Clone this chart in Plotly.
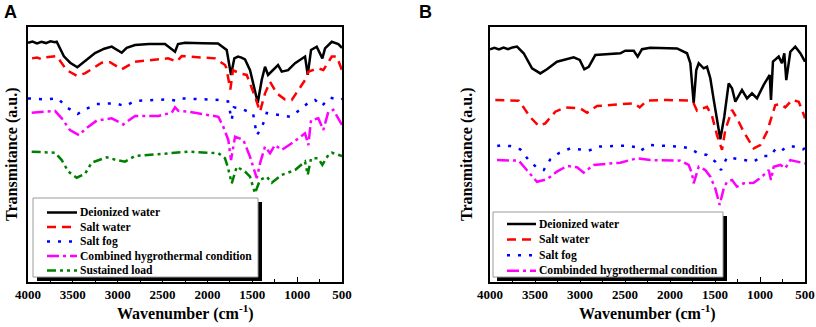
import plotly.graph_objects as go

W, H = 816, 327

# ---------------- data (wavenumber cm-1, transmittance a.u.) ----------------
A_deionized = [(4000,93.8),(3950,94.3),(3900,93.6),(3850,94.2),(3800,93.7),(3750,94.4),(3700,94.0),(3680,94.2),
               (3600,88.5),(3530,86.0),(3450,84.2),(3350,87.0),(3253,89.8),(3150,91.5),(3067,92.3),(2955,89.9),
               (2900,91.8),(2807,92.9),(2650,93.3),(2473,93.3),(2361,90.3),(2328,93.3),(2250,93.8),(2050,93.6),
               (1882,93.5),(1785,91.0),(1737,81.2),(1700,87.7),(1659,88.4),(1620,88.0),(1581,87.3),(1525,83.1),
               (1480,76.0),(1439,70.3),(1395,79.2),(1358,84.4),(1324,81.2),(1269,83.1),(1213,85.1),(1172,82.5),
               (1101,83.1),(1023,85.8),(912,88.4),(882,81.2),(845,91.0),(782,92.3),(719,87.7),(689,91.6),
               (614,94.2),(541,93.3),(500,91.8)]
A_salt_water = [(3955,87.7),(3900,88.0),(3850,87.4),(3810,88.1),(3680,88.6),(3569,83.1),(3457,80.9),(3365,81.8),
                (3178,86.0),(3086,86.2),(2955,83.4),(2807,86.4),(2439,87.7),(2342,86.4),(2287,88.6),(1915,87.7),
                (1804,85.1),(1790,84.0),(1745,75.5),(1715,83.0),(1636,81.8),(1562,81.2),(1470,72.7),(1414,66.8),
                (1358,74.0),(1302,78.5),(1228,74.0),(1135,71.6),(1060,71.4),(987,75.3),(912,79.2),(875,82.5),
                (764,83.8),(708,83.1),(614,88.4),(559,88.4),(500,83.1)]
A_salt_fog = [(4000,72.0),(3900,71.7),(3810,71.6),(3666,72.0),(3569,68.5),(3446,65.9),(3365,67.7),(3234,69.8),
              (3030,70.1),(2919,69.0),(2807,71.0),(2436,71.6),(2342,71.1),(2287,72.0),(1878,71.4),(1770,70.8),
              (1730,63.5),(1705,68.5),(1637,68.1),(1544,66.8),(1492,66.3),(1450,57.6),(1395,60.4),(1339,66.3),
              (1191,65.5),(1079,64.8),(968,67.5),(879,70.2),(801,71.4),(726,69.0),(633,72.3),(522,71.4),(500,71.8)]
A_combined = [(3959,66.4),(3699,67.1),(3624,64.2),(3532,59.6),(3431,57.6),(3365,59.9),(3234,63.3),(3067,64.2),
              (2938,61.8),(2807,65.1),(2547,65.1),(2398,66.4),(2361,68.5),(2324,67.1),(2213,66.8),(1878,64.8),
              (1823,60.9),(1767,55.7),(1737,47.8),(1692,57.0),(1600,55.7),(1525,49.1),(1450,40.7),(1414,46.5),
              (1358,53.1),(1302,50.5),(1247,53.7),(1172,51.8),(1060,54.4),(912,58.3),(875,53.7),(845,63.5),
              (764,64.2),(708,59.6),(652,66.8),(597,67.5),(500,61.6)]
A_sustained = [(3959,51.1),(3699,50.7),(3624,47.8),(3551,43.3),(3457,40.9),(3365,42.4),(3290,46.8),(3123,48.9),
               (3011,47.8),(2919,47.2),(2807,49.4),(2547,50.2),(2213,51.1),(1878,50.5),(1804,48.5),(1774,45.2),
               (1729,38.7),(1673,45.2),(1581,43.3),(1525,41.3),(1470,34.8),(1414,40.0),(1339,41.3),(1283,38.9),
               (1172,42.0),(1023,43.9),(912,47.2),(882,42.0),(845,48.5),(764,48.5),(719,45.9),(652,49.8),
               (614,50.7),(500,49.4)]

B_deionized = [(4000,91.3),(3950,91.8),(3900,91.2),(3850,91.9),(3800,91.3),(3750,92.0),(3700,92.3),(3626,89.7),
               (3533,83.8),(3441,81.8),(3367,83.4),(3256,86.4),(3070,88.1),(3003,87.1),(2952,83.4),(2903,84.4),
               (2830,89.0),(2552,89.7),(2497,90.7),(2403,90.7),(2359,88.4),(2311,91.3),(2219,91.9),(1922,91.6),
               (1811,89.7),(1774,85.8),(1737,70.1),(1708,83.1),(1681,85.8),(1626,83.8),(1589,84.4),(1552,79.9),
               (1514,71.4),(1441,56.0),(1397,64.8),(1348,77.9),(1311,76.0),(1274,70.7),(1200,75.3),(1144,72.0),
               (1089,74.0),(1033,72.0),(959,77.3),(892,81.2),(878,71.4),(856,86.4),(792,88.4),(756,85.8),
               (730,89.7),(708,79.2),(663,90.3),(608,92.3),(552,89.7),(500,86.4)]
B_salt_water = [(3941,71.4),(3681,71.1),(3608,67.5),(3552,64.6),(3459,61.2),(3386,62.2),(3274,66.8),(3163,68.5),
                (2997,68.1),(2922,66.4),(2811,69.0),(2403,70.1),(2337,68.5),(2256,71.1),(2033,71.4),(1774,71.1),
                (1737,70.1),(1700,67.2),(1589,68.7),(1533,65.1),(1478,57.6),(1422,51.8),(1386,59.6),(1311,67.5),
                (1256,64.2),(1181,58.9),(1070,52.4),(997,53.7),(922,58.9),(878,64.2),(830,69.4),(774,69.8),
                (719,68.5),(644,71.4),(570,70.7),(533,67.5),(500,64.2)]
B_salt_fog = [(3920,53.3),(3870,53.6),(3774,53.3),(3663,52.0),(3570,47.8),(3478,44.8),(3403,43.9),(3330,48.1),
              (3237,50.5),(3108,52.4),(2997,52.0),(2903,51.5),(2792,53.1),(2478,53.5),(2367,52.8),(2330,51.5),
              (2219,53.7),(1886,53.1),(1774,52.4),(1700,50.7),(1589,49.8),(1497,47.2),(1433,43.9),(1367,48.9),
              (1219,48.1),(1070,47.2),(978,49.4),(886,49.4),(830,52.0),(774,51.1),(700,53.1),(626,53.1),
              (522,52.0),(500,52.5)]
B_combined = [(3922,47.8),(3681,47.6),(3608,44.6),(3533,41.3),(3478,39.3),(3367,40.3),(3256,43.3),(3144,45.5),
              (3033,45.0),(2959,42.9),(2848,45.9),(2552,46.8),(2367,48.5),(2219,47.8),(1886,47.6),(1792,45.9),
              (1756,42.6),(1737,38.7),(1681,45.2),(1608,43.9),(1552,41.3),(1497,36.7),(1448,30.2),(1403,36.7),
              (1367,39.3),(1311,40.0),(1256,37.4),(1181,38.7),(1070,38.9),(978,41.3),(903,43.9),(878,40.0),
              (848,45.2),(774,45.9),(719,44.6),(663,47.8),(589,47.1),(500,46.5)]

A_names = ["Deionized water", "Salt water", "Salt fog", "Combined hygrothermal condition", "Sustained load"]
B_names = ["Deionized water", "Salt water", "Salt fog", "Combinded hygrothermal condition"]
tick_values = [4000, 3500, 3000, 2500, 2000, 1500, 1000, 500]

# ---------------- styles ----------------
colors = ["#000000", "#ff0000", "#0000ff", "#ff00ff", "#008000"]
dashes = ["solid", "9px,6px", "3px,8px", "12px,4px,3px,4px", "9px,4px,3px,4px,3px,4px"]
LW = 2.5
SERIF = "Times New Roman, Liberation Serif, DejaVu Serif, serif"

fig = go.Figure()

def add_series(series_list, names, xa, ya):
    for i, (s, n) in enumerate(zip(series_list, names)):
        fig.add_trace(go.Scatter(
            x=[p[0] for p in s], y=[p[1] for p in s], mode="lines", name=n,
            line=dict(color=colors[i], width=LW, dash=dashes[i]),
            xaxis=xa, yaxis=ya, showlegend=False, hoverinfo="skip"))

add_series([A_deionized, A_salt_water, A_salt_fog, A_combined, A_sustained], A_names, "x", "y")
add_series([B_deionized, B_salt_water, B_salt_fog, B_combined], B_names, "x2", "y2")

def px(x):
    return x / W

def py(y):
    return 1 - y / H

ydom = [py(282), py(27)]
xaxis_common = dict(
    range=[4000, 500], tickmode="array", tickvals=tick_values,
    ticktext=["<b>%d</b>" % v for v in tick_values],
    ticks="inside", ticklen=5, tickwidth=1.3, tickcolor="black",
    minor=dict(ticks="inside", ticklen=3, tickwidth=1.2, tickcolor="black", dtick=250, tick0=500),
    showline=True, mirror=True, linecolor="black", linewidth=1.5,
    showgrid=False, zeroline=False, automargin=False,
    tickfont=dict(family=SERIF, size=13, color="black"),
)
yaxis_common = dict(
    range=[0, 100], domain=ydom, showticklabels=False, ticks="",
    showline=True, mirror=True, linecolor="black", linewidth=1.5,
    showgrid=False, zeroline=False, automargin=False,
)

fig.update_layout(
    width=W, height=H, margin=dict(l=0, r=0, t=0, b=0),
    paper_bgcolor="white", plot_bgcolor="white",
    xaxis=dict(domain=[px(28), px(342)], anchor="y", **xaxis_common),
    yaxis=dict(anchor="x", **yaxis_common),
    xaxis2=dict(domain=[px(490), px(805)], anchor="y2", **xaxis_common),
    yaxis2=dict(anchor="x2", **yaxis_common),
    showlegend=False,
)

shapes = []
annotations = []

def add_legend(box, names, row_y0, row_step, sample_x, text_x):
    x0, y0, x1, y1 = box
    shapes.append(dict(type="rect", xref="paper", yref="paper", layer="above",
                       x0=px(x0 + 4), x1=px(x1 + 4), y0=py(y1 + 4), y1=py(y0 + 4),
                       fillcolor="black", line=dict(width=0)))
    shapes.append(dict(type="rect", xref="paper", yref="paper", layer="above",
                       x0=px(x0), x1=px(x1), y0=py(y1), y1=py(y0),
                       fillcolor="white", line=dict(color="#9a9a9a", width=1)))
    for i, n in enumerate(names):
        yy = row_y0 + i * row_step
        shapes.append(dict(type="line", xref="paper", yref="paper", layer="above",
                           x0=px(sample_x[0]), x1=px(sample_x[1]), y0=py(yy), y1=py(yy),
                           line=dict(color=colors[i], width=LW, dash=dashes[i])))
        annotations.append(dict(text="<b>%s</b>" % n, xref="paper", yref="paper", x=px(text_x), y=py(yy),
                                xanchor="left", yanchor="middle", showarrow=False,
                                font=dict(family=SERIF, size=11.6, color="black")))

add_legend((33, 198, 258, 277), A_names, 212.5, 14.5, (47, 77), 78)
add_legend((493, 212, 723, 277), B_names, 224, 15.6, (507, 536), 537)

title_font = dict(family=SERIF, size=16, color="black")
for cx in (185, 647.5):
    annotations.append(dict(text="<b>Wavenumber (cm<sup>-1</sup>)</b>", xref="paper", yref="paper",
                            x=px(cx), y=py(312), xanchor="center", yanchor="middle",
                            showarrow=False, font=title_font))
for cx in (12, 467):
    annotations.append(dict(text="<b>Transmitance (a.u.)</b>", xref="paper", yref="paper",
                            x=px(cx), y=py(155), xanchor="center", yanchor="middle",
                            textangle=-90, showarrow=False, font=title_font))
for letter, cx in (("A", 10), ("B", 425)):
    annotations.append(dict(text="<b>%s</b>" % letter, xref="paper", yref="paper", x=px(cx), y=py(11.5),
                            xanchor="center", yanchor="middle", showarrow=False,
                            font=dict(family="Liberation Sans, Arial, sans-serif", size=18, color="black")))

fig.update_layout(shapes=shapes, annotations=annotations)
fig.write_html("out.html", config={"displayModeBar": False},
               post_script="document.body.style.margin='0';document.body.style.overflow='hidden';")
